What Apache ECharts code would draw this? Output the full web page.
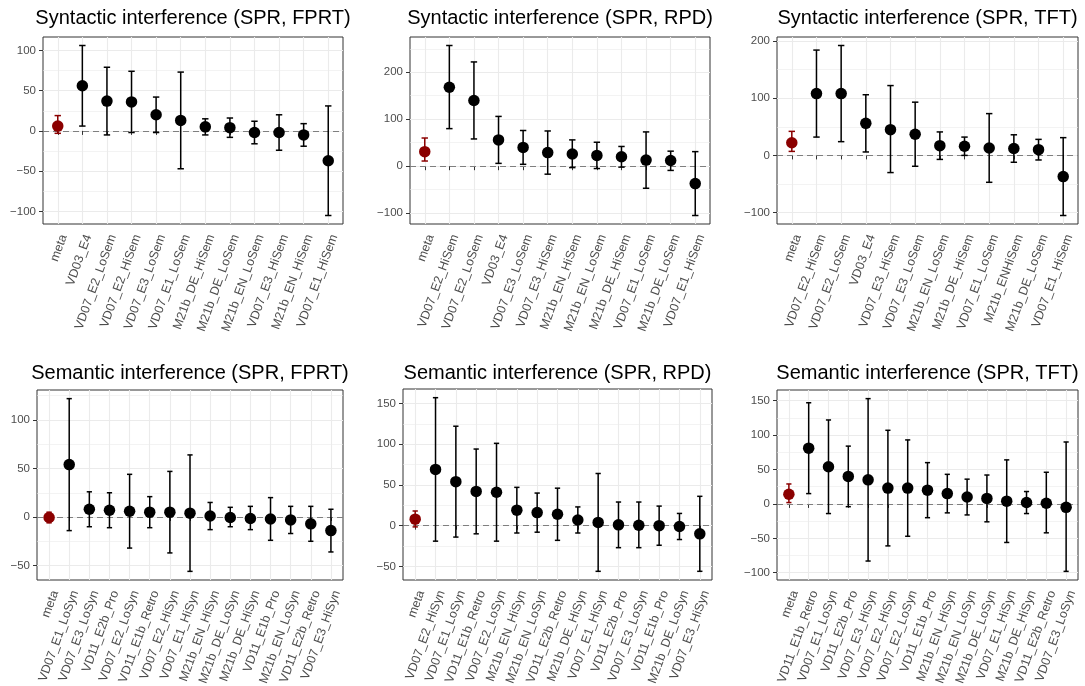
<!DOCTYPE html>
<html>
<head>
<meta charset="utf-8">
<script src="https://cdn.jsdelivr.net/npm/echarts@6/dist/echarts.min.js"></script>
<style>
  html, body { margin: 0; padding: 0; background: #ffffff; }
  #chart { width: 1085px; height: 686px; }
</style>
</head>
<body>
<div id="chart"></div>
<script>
// ---- Syntactic interference, SPR, FPRT ----
const synFprtLabels = ['meta', 'VD03_E4', 'VD07_E2_LoSem', 'VD07_E2_HiSem', 'VD07_E3_LoSem', 'VD07_E1_LoSem',
  'M21b_DE_HiSem', 'M21b_DE_LoSem', 'M21b_EN_LoSem', 'VD07_E3_HiSem', 'M21b_EN_HiSem', 'VD07_E1_HiSem'];
const synFprtMean  = [6, 56, 37, 36, 20, 13, 5, 4, -2, -2, -5, -37];
const synFprtLower = [-3, 6, -5, -2, -2, -47, -5, -8, -16, -24, -19, -105];
const synFprtUpper = [19, 106, 79, 74, 42, 73, 15, 16, 12, 20, 9, 31];
const synFprtTicks = [-100, -50, 0, 50, 100];

// ---- Syntactic interference, SPR, RPD ----
const synRpdLabels = ['meta', 'VD07_E2_HiSem', 'VD07_E2_LoSem', 'VD03_E4', 'VD07_E3_LoSem', 'VD07_E3_HiSem',
  'M21b_EN_HiSem', 'M21b_EN_LoSem', 'M21b_DE_HiSem', 'VD07_E1_LoSem', 'M21b_DE_LoSem', 'VD07_E1_HiSem'];
const synRpdMean  = [31, 168, 140, 56, 40, 29, 26, 23, 20, 13, 12, -37];
const synRpdLower = [11, 80, 58, 6, 4, -17, -3, -5, -2, -47, -9, -105];
const synRpdUpper = [60, 257, 222, 106, 76, 75, 56, 51, 42, 73, 32, 31];
const synRpdTicks = [-100, 0, 100, 200];

// ---- Syntactic interference, SPR, TFT ----
const synTftLabels = ['meta', 'VD07_E2_HiSem', 'VD07_E2_LoSem', 'VD03_E4', 'VD07_E3_HiSem', 'VD07_E3_LoSem',
  'M21b_EN_LoSem', 'M21b_DE_HiSem', 'VD07_E1_LoSem', 'M21b_ENHiSem', 'M21b_DE_LoSem', 'VD07_E1_HiSem'];
const synTftMean  = [22, 108, 108, 56, 45, 37, 17, 16, 13, 12, 10, -37];
const synTftLower = [7, 32, 24, 6, -30, -19, -7, 0, -47, -12, -8, -105];
const synTftUpper = [42, 184, 192, 106, 122, 93, 41, 32, 73, 36, 28, 31];
const synTftTicks = [-100, 0, 100, 200];

// ---- Semantic interference, SPR, FPRT ----
const semFprtLabels = ['meta', 'VD07_E1_LoSyn', 'VD07_E3_LoSyn', 'VD11_E2b_Pro', 'VD07_E2_LoSyn', 'VD11_E1b_Retro',
  'VD07_E2_HiSyn', 'VD07_E1_HiSyn', 'M21b_EN_HiSyn', 'M21b_DE_LoSyn', 'M21b_DE_HiSyn', 'VD11_E1b_Pro',
  'M21b_EN_LoSyn', 'VD11_E2b_Retro', 'VD07_E3_HiSyn'];
const semFprtMean  = [-0.5, 54, 8, 7, 6, 5, 5, 4, 1, -0.5, -1.5, -2, -3, -7, -14];
const semFprtLower = [-6, -14, -10, -11, -32, -11, -37, -56, -13, -10, -13, -24, -17, -25, -36];
const semFprtUpper = [5, 122, 26, 25, 44, 21, 47, 64, 15, 10, 11, 20, 11, 11, 8];
const semFprtTicks = [-50, 0, 50, 100];

// ---- Semantic interference, SPR, RPD ----
const semRpdLabels = ['meta', 'VD07_E2_HiSyn', 'VD07_E1_LoSyn', 'VD11_E1b_Retro', 'VD07_E2_LoSyn', 'M21b_EN_HiSyn',
  'M21b_EN_LoSyn', 'VD11_E2b_Retro', 'M21b_DE_HiSyn', 'VD07_E1_HiSyn', 'VD11_E2b_Pro', 'VD07_E3_LoSyn',
  'VD11_E1b_Pro', 'M21b_DE_LoSyn', 'VD07_E3_HiSyn'];
const semRpdMean  = [8, 69, 54, 42, 41, 19, 16, 14, 7, 4, 1, 0.5, 0, -1, -10];
const semRpdLower = [-1.5, -19, -14, -10, -19, -9, -8, -18, -9, -56, -27, -27, -24, -17, -56];
const semRpdUpper = [18, 157, 122, 94, 101, 47, 40, 46, 23, 64, 29, 29, 24, 15, 36];
const semRpdTicks = [-50, 0, 50, 100, 150];

// ---- Semantic interference, SPR, TFT ----
const semTftLabels = ['meta', 'VD11_E1b_Retro', 'VD07_E1_LoSyn', 'VD11_E2b_Pro', 'VD07_E3_HiSyn', 'VD07_E2_HiSyn',
  'VD07_E2_LoSyn', 'VD11_E1b_Pro', 'M21b_EN_HiSyn', 'M21b_EN_LoSyn', 'M21b_DE_LoSyn', 'VD07_E1_HiSyn',
  'M21b_DE_HiSyn', 'VD11_E2b_Retro', 'VD07_E3_LoSyn'];
const semTftMean  = [14, 81, 54, 40, 35, 23, 23, 20, 15, 10, 8, 4, 2, 1, -5];
const semTftLower = [2, 15, -14, -4, -83, -61, -47, -20, -13, -16, -26, -56, -14, -42, -98];
const semTftUpper = [29, 147, 122, 84, 153, 107, 93, 60, 43, 36, 42, 64, 18, 46, 90];
const semTftTicks = [-100, -50, 0, 50, 100, 150];

const META_COLOR = '#8B0000';
const FONT = '"Liberation Sans", Arial, Helvetica, sans-serif';
// rotated category labels sit a little to the right of their tick (pixels)
const LABEL_SHIFT_PX = 6;

// one entry per facet: data plus where its panel sits on the page
const panels = [
  { title: 'Syntactic interference (SPR, FPRT)', labels: synFprtLabels, mean: synFprtMean, lower: synFprtLower, upper: synFprtUpper, ticks: synFprtTicks,
    box: { left: 43, top: 37, width: 300, height: 187 }, titleY: 18 },
  { title: 'Syntactic interference (SPR, RPD)', labels: synRpdLabels, mean: synRpdMean, lower: synRpdLower, upper: synRpdUpper, ticks: synRpdTicks,
    box: { left: 410, top: 37, width: 300, height: 187 }, titleY: 18 },
  { title: 'Syntactic interference (SPR, TFT)', labels: synTftLabels, mean: synTftMean, lower: synTftLower, upper: synTftUpper, ticks: synTftTicks,
    box: { left: 777, top: 37, width: 301, height: 187 }, titleY: 18 },
  { title: 'Semantic interference (SPR, FPRT)', labels: semFprtLabels, mean: semFprtMean, lower: semFprtLower, upper: semFprtUpper, ticks: semFprtTicks,
    box: { left: 37, top: 390, width: 306, height: 190 }, titleY: 373 },
  { title: 'Semantic interference (SPR, RPD)', labels: semRpdLabels, mean: semRpdMean, lower: semRpdLower, upper: semRpdUpper, ticks: semRpdTicks,
    box: { left: 403, top: 389, width: 309, height: 191 }, titleY: 373 },
  { title: 'Semantic interference (SPR, TFT)', labels: semTftLabels, mean: semTftMean, lower: semTftLower, upper: semTftUpper, ticks: semTftTicks,
    box: { left: 777, top: 390, width: 301, height: 190 }, titleY: 373 }
];

const option = {
  animation: false,
  backgroundColor: '#ffffff',
  grid: [], xAxis: [], yAxis: [], series: [], graphic: []
};

const minusSign = v => String(v).replace('-', '\u2212');

panels.forEach((p, i) => {
  const n = p.labels.length;
  const xs = p.labels.map((_, k) => k + 1);
  const xmin = 0.4, xmax = n + 0.6;
  const shift = LABEL_SHIFT_PX * (xmax - xmin) / p.box.width;
  // continuous range padded by 5% each side, discrete range by 0.6 units
  const lo = Math.min(...p.lower), hi = Math.max(...p.upper);
  const pad = 0.05 * (hi - lo);
  const ymin = lo - pad, ymax = hi + pad;
  const step = p.ticks[1] - p.ticks[0];
  const minor = [p.ticks[0] - step / 2].concat(p.ticks.map(t => t + step / 2))
    .filter(v => v > ymin && v < ymax);

  option.grid.push({
    left: p.box.left, top: p.box.top, width: p.box.width, height: p.box.height,
    show: true, borderColor: '#333333', borderWidth: 1, backgroundColor: '#ffffff',
    containLabel: false, outerBoundsMode: 'none'
  });

  option.xAxis.push({
    type: 'value', gridIndex: i, min: xmin, max: xmax,
    axisLine: { show: false },
    axisTick: { show: true, customValues: xs, length: 4, lineStyle: { color: '#333333', width: 1 } },
    axisLabel: {
      customValues: xs.map(x => x + shift), rotate: 70, margin: 11,
      showMinLabel: true, showMaxLabel: true, hideOverlap: false,
      color: '#4D4D4D', fontSize: 12.5, fontFamily: FONT,
      formatter: v => p.labels[Math.round(v) - 1]
    },
    splitLine: { show: true, lineStyle: { color: '#EBEBEB', width: 1.1 } },
    minorSplitLine: { show: false }
  });

  option.yAxis.push({
    type: 'value', gridIndex: i, min: ymin, max: ymax,
    axisLine: { show: false },
    axisTick: { show: true, customValues: p.ticks, length: 4, lineStyle: { color: '#333333', width: 1 } },
    axisLabel: {
      customValues: p.ticks, margin: 7, color: '#4D4D4D', fontSize: 11.5, fontFamily: FONT,
      showMinLabel: true, showMaxLabel: true,
      formatter: minusSign
    },
    splitLine: { show: true, lineStyle: { color: '#EBEBEB', width: 1.1 } },
    minorSplitLine: { show: false }
  });

  // minor horizontal grid lines
  option.series.push({
    type: 'scatter', xAxisIndex: i, yAxisIndex: i, data: [], silent: true, z: 1,
    markLine: {
      silent: true, z: 1, symbol: ['none', 'none'], label: { show: false }, emphasis: { disabled: true },
      lineStyle: { color: '#EBEBEB', width: 0.6, type: 'solid', opacity: 1 },
      data: minor.map(v => ({ yAxis: v }))
    }
  });

  // dashed reference line at zero
  option.series.push({
    type: 'scatter', xAxisIndex: i, yAxisIndex: i, data: [], silent: true, z: 2,
    markLine: {
      silent: true, z: 2, symbol: ['none', 'none'], label: { show: false }, emphasis: { disabled: true },
      lineStyle: { color: '#7F7F7F', width: 1.2, type: [6, 4], opacity: 1 },
      data: [{ yAxis: 0 }]
    }
  });

  // error bars with caps
  option.series.push({
    type: 'custom', xAxisIndex: i, yAxisIndex: i, z: 10, silent: true,
    data: xs.map((x, k) => [x, p.lower[k], p.upper[k]]),
    encode: { x: 0, y: [1, 2] },
    renderItem: (params, api) => {
      const x = api.value(0);
      const top = api.coord([x, api.value(2)]);
      const bot = api.coord([x, api.value(1)]);
      const half = api.coord([x + 0.13, 0])[0] - top[0];
      const color = p.labels[x - 1] === 'meta' ? META_COLOR : '#000000';
      const style = { stroke: color, lineWidth: 1.5, opacity: 1 };
      return {
        type: 'group',
        children: [
          { type: 'line', shape: { x1: top[0], y1: top[1], x2: bot[0], y2: bot[1] }, style },
          { type: 'line', shape: { x1: top[0] - half, y1: top[1], x2: top[0] + half, y2: top[1] }, style },
          { type: 'line', shape: { x1: bot[0] - half, y1: bot[1], x2: bot[0] + half, y2: bot[1] }, style }
        ]
      };
    }
  });

  // point estimates
  option.series.push({
    type: 'scatter', xAxisIndex: i, yAxisIndex: i, z: 11, silent: true,
    symbol: 'circle', symbolSize: 11.5,
    itemStyle: { opacity: 1 },
    data: xs.map((x, k) => ({
      value: [x, p.mean[k]],
      itemStyle: { color: p.labels[k] === 'meta' ? META_COLOR : '#000000', opacity: 1 }
    }))
  });

  // facet title, centred over its panel
  option.graphic.push({
    type: 'text', x: p.box.left + p.box.width / 2, y: p.titleY, silent: true,
    style: {
      text: p.title, fill: '#000000', align: 'center', verticalAlign: 'middle',
      font: '20px ' + FONT
    }
  });
});

const chart = echarts.init(document.getElementById('chart'), null, { renderer: 'canvas' });
chart.setOption(option);
</script>
</body>
</html>
